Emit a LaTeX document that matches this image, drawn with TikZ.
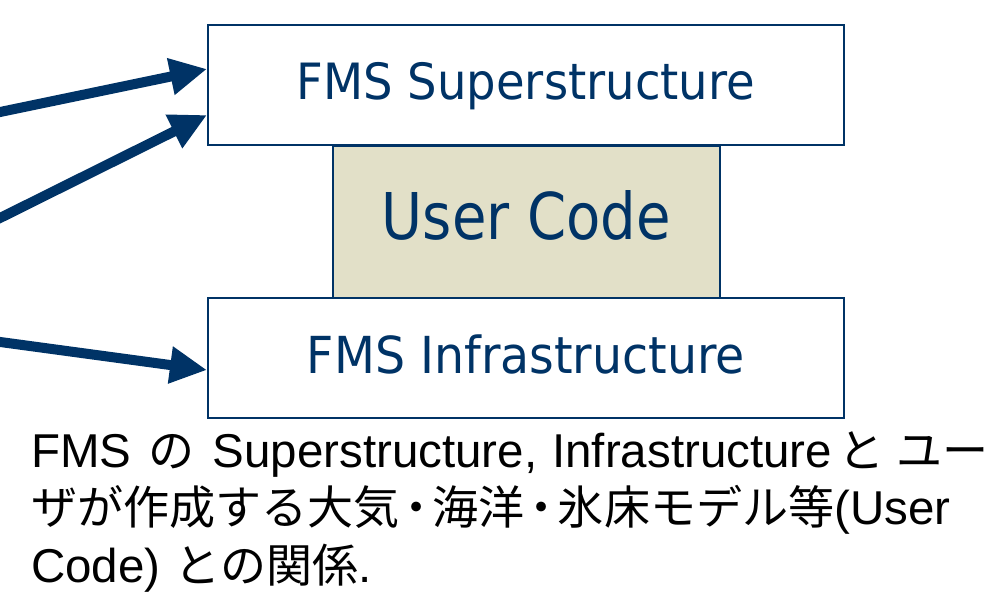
\documentclass[tikz,border=0pt]{standalone}
\usepackage{fontspec}
\usetikzlibrary{arrows.meta}
\newfontfamily\labelfont[FakeStretch=0.93]{DejaVu Sans}
\newfontfamily\userfont[FakeStretch=0.87]{DejaVu Sans}
\newfontfamily\capfont{Liberation Sans}
\newfontfamily\jpfont[Scale=0.97]{Noto Sans CJK JP}
\newcommand\jp[1]{{\jpfont #1}}
\newcommand\jpdot{\makebox[33pt]{\jp{・}}}
\definecolor{navy}{RGB}{0,51,102}
\definecolor{usercode}{RGB}{226,224,200}
\begin{document}
\begin{tikzpicture}[x=1pt,y=-1pt,
  layer/.style={draw=navy, line width=1.8pt, text=navy, inner sep=0pt,
    minimum width=636pt, minimum height=120pt, anchor=north west},
  link/.style={draw=navy, line width=10pt, -{Triangle[length=37pt,width=35pt]}},
  caption/.style={anchor=base west, inner sep=0pt,
    font=\capfont\fontsize{47.5}{57}\selectfont}]
\useasboundingbox (0,0) rectangle (988,592);
% the three stacked layers
\node[layer, fill=usercode, minimum width=387pt, minimum height=152pt,
  font=\userfont\fontsize{64.5}{70}\selectfont, text height=47pt, text depth=11pt]
  (user) at (332,145) {User Code};
\node[layer, fill=white, font=\labelfont\fontsize{50}{60}\selectfont,
  text height=36pt, text depth=6pt] (sup) at (207,24) {FMS Superstructure};
\node[layer, fill=white, font=\labelfont\fontsize{51}{60}\selectfont,
  text height=37pt, text depth=6pt] (inf) at (207,297) {FMS Infrastructure};
% arrows coming in from the left edge
\coordinate (s1) at (-10,114.1);
\coordinate (s2) at (-10,223);
\coordinate (s3) at (-10,340.6);
\draw[link] (s1) -- ([yshift=-45pt]sup.north west);
\draw[link] (s2) -- ([yshift=-91pt]sup.north west);
\draw[link] (s3) -- ([yshift=-73pt]inf.north west);
% caption
\node[caption] (c1) at (31,467) {FMS\hspace{17pt}\jp{の}\hspace{18pt}Superstructure,\hspace{15pt}Infrastructure\hspace{6pt}\jp{と}\hspace{12pt}\jp{ユー}};
\node[caption] (c2) at (31,524.5) {\jp{ザが作成する大気}\jpdot\jp{海洋}\jpdot\jp{氷床モデル等}(User};
\node[caption] (c3) at (31,582) {Code)\hspace{14pt}\jp{との関係}.};
\end{tikzpicture}
\end{document}
